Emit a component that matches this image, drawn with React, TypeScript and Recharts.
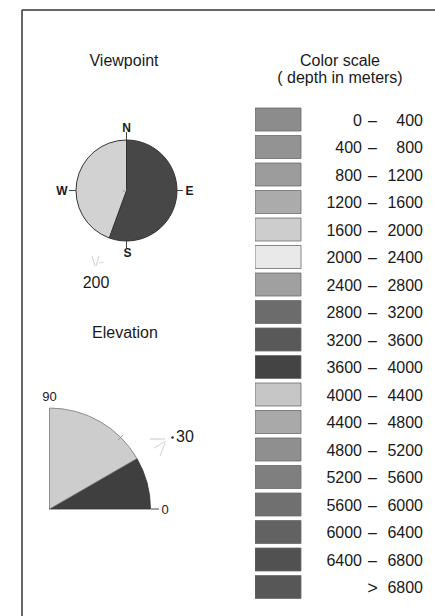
import React from 'react';
import { PieChart, Pie, Cell, BarChart, Bar, XAxis, YAxis } from 'recharts';

// Viewpoint azimuth: dark sector from N clockwise to the viewpoint bearing (200°)
const VIEW_AZIMUTH = [
  { part: 'toward', value: 200 },
  { part: 'away', value: 160 },
];
const VIEW_LABEL = '200';

// Elevation: dark sector from 0° up to 30°
const ELEVATION = [
  { part: 'below', value: 30 },
  { part: 'above', value: 60 },
];
const ELEVATION_LABEL = '30';

const DEPTH_RANGES = [
  '0 – 400',
  '400 – 800',
  '800 – 1200',
  '1200 – 1600',
  '1600 – 2000',
  '2000 – 2400',
  '2400 – 2800',
  '2800 – 3200',
  '3200 – 3600',
  '3600 – 4000',
  '4000 – 4400',
  '4400 – 4800',
  '4800 – 5200',
  '5200 – 5600',
  '5600 – 6000',
  '6000 – 6400',
  '6400 – 6800',
  '> 6800',
];
const DEPTH_SWATCH = [1, 1, 1, 1, 1, 1, 1, 1, 1, 1, 1, 1, 1, 1, 1, 1, 1, 1];

const DEPTH_COLORS = [
  '#8c8c8c', '#939393', '#9c9c9c', '#ababab', '#cdcdcd', '#e9e9e9',
  '#a0a0a0', '#6c6c6c', '#595959', '#444444', '#c6c6c6', '#a9a9a9',
  '#8f8f8f', '#7f7f7f', '#707070', '#626262', '#515151', '#575757',
];

const scaleRows = DEPTH_RANGES.map((range, i) => ({ range, swatch: DEPTH_SWATCH[i] }));

const FONT = '"Liberation Sans", Arial, Helvetica, sans-serif';
const INK = '#1a1a1a';

const RangeTick = (props: any) => {
  const { y, payload } = props;
  const label: string = payload.value;
  const common = { fontFamily: FONT, fontSize: 16, fill: INK, dy: '0.36em' };
  if (label.includes('–')) {
    const [lo, hi] = label.split(' – ');
    return (
      <g>
        <text x={107} y={y} textAnchor="end" {...common}>{lo}</text>
        <text x={117.5} y={y} textAnchor="middle" {...common}>–</text>
        <text x={168} y={y} textAnchor="end" {...common}>{hi}</text>
      </g>
    );
  }
  const num = label.replace('>', '').trim();
  return (
    <g>
      <text x={117.5} y={y} textAnchor="middle" {...common} fontSize={18}>&gt;</text>
      <text x={168} y={y} textAnchor="end" {...common}>{num}</text>
    </g>
  );
};

export default function App() {
  return (
    <div
      style={{
        position: 'absolute',
        left: 0,
        top: 0,
        width: 435,
        height: 616,
        background: '#fff',
        overflow: 'hidden',
        fontFamily: FONT,
      }}
    >
      {/* Compass (viewpoint) */}
      <div style={{ position: 'absolute', left: 26, top: 90 }}>
        <PieChart width={200} height={200} margin={{ top: 0, right: 0, bottom: 0, left: 0 }}>
          <Pie
            data={VIEW_AZIMUTH}
            dataKey="value"
            nameKey="part"
            cx={100.5}
            cy={100.5}
            outerRadius={50.5}
            startAngle={90}
            endAngle={-270}
            isAnimationActive={false}
            stroke="#333"
            strokeWidth={1}
          >
            <Cell fill="#474747" />
            <Cell fill="#d2d2d2" />
          </Pie>
        </PieChart>
      </div>

      {/* Elevation quarter */}
      <div style={{ position: 'absolute', left: 0, top: 400 }}>
        <PieChart width={200} height={150} margin={{ top: 0, right: 0, bottom: 0, left: 0 }}>
          <Pie
            data={ELEVATION}
            dataKey="value"
            nameKey="part"
            cx={49.5}
            cy={109}
            outerRadius={101}
            startAngle={0}
            endAngle={90}
            isAnimationActive={false}
            strokeWidth={0.8}
          >
            <Cell fill="#3f3f3f" stroke="#333" />
            <Cell fill="#cdcdcd" stroke="#777" />
          </Pie>
        </PieChart>
      </div>

      {/* Color scale */}
      <div style={{ position: 'absolute', left: 255, top: 105.75 }}>
        <BarChart
          width={180}
          height={495}
          layout="vertical"
          data={scaleRows}
          margin={{ top: 0, right: 0, bottom: 0, left: 0 }}
        >
          <XAxis type="number" domain={[0, 1]} hide />
          <YAxis
            type="category"
            dataKey="range"
            orientation="right"
            width={134}
            axisLine={false}
            tickLine={false}
            interval={0}
            tick={<RangeTick />}
          />
          <Bar dataKey="swatch" barSize={23} isAnimationActive={false}>
            {scaleRows.map((r, i) => (
              <Cell key={r.range} fill={DEPTH_COLORS[i]} stroke="#6a6a6a" strokeWidth={0.8} />
            ))}
          </Bar>
        </BarChart>
      </div>

      {/* Annotations */}
      <svg
        width={435}
        height={616}
        style={{ position: 'absolute', left: 0, top: 0, pointerEvents: 'none' }}
      >
        {/* frame */}
        <line x1={22} y1={10} x2={435} y2={10} stroke="#333" strokeWidth={1.5} />
        <line x1={22} y1={10} x2={22} y2={616} stroke="#333" strokeWidth={1.5} />

        {/* titles */}
        <text x={124} y={66} textAnchor="middle" fontFamily={FONT} fontSize={16} fill={INK}>Viewpoint</text>
        <text x={340} y={66} textAnchor="middle" fontFamily={FONT} fontSize={16} fill={INK}>Color scale</text>
        <text x={340} y={83} textAnchor="middle" fontFamily={FONT} fontSize={16} fill={INK} xmlSpace="preserve">( depth in meters)</text>
        <text x={125} y={338} textAnchor="middle" fontFamily={FONT} fontSize={16} fill={INK}>Elevation</text>

        {/* compass ticks & letters */}
        <line x1={126.5} y1={132} x2={126.5} y2={140} stroke="#444" strokeWidth={1} />
        <line x1={126.5} y1={241} x2={126.5} y2={248} stroke="#444" strokeWidth={1} />
        <line x1={69} y1={190.5} x2={76} y2={190.5} stroke="#444" strokeWidth={1} />
        <line x1={177} y1={190.5} x2={183} y2={190.5} stroke="#444" strokeWidth={1} />
        <text x={126.5} y={132} textAnchor="middle" fontFamily={FONT} fontSize={12} fontWeight="bold" fill={INK}>N</text>
        <text x={127.5} y={257} textAnchor="middle" fontFamily={FONT} fontSize={12} fontWeight="bold" fill={INK}>S</text>
        <text x={62} y={195} textAnchor="middle" fontFamily={FONT} fontSize={12} fontWeight="bold" fill={INK}>W</text>
        <text x={189.5} y={195} textAnchor="middle" fontFamily={FONT} fontSize={12} fontWeight="bold" fill={INK}>E</text>
        <circle cx={124} cy={191} r={0.8} fill="#888" />

        {/* viewpoint value with faint rays */}
        <line x1={92} y1={256} x2={95} y2={266} stroke="#c4c4c4" strokeWidth={0.8} />
        <line x1={99} y1={256} x2={96} y2={266} stroke="#c4c4c4" strokeWidth={0.8} />
        <line x1={99} y1={263} x2={104} y2={262} stroke="#d0d0d0" strokeWidth={0.8} />
        <text x={96} y={288} textAnchor="middle" fontFamily={FONT} fontSize={16} fill={INK}>{VIEW_LABEL}</text>

        {/* elevation labels */}
        <text x={49.5} y={401} textAnchor="middle" fontFamily={FONT} fontSize={13} fill={INK}>90</text>
        <line x1={151} y1={509} x2={159} y2={509} stroke="#444" strokeWidth={1} />
        <text x={165} y={514} textAnchor="middle" fontFamily={FONT} fontSize={13} fill={INK}>0</text>
        <line x1={118} y1={440} x2={123} y2={435} stroke="#888" strokeWidth={0.8} />
        <line x1={150} y1={439} x2={165} y2={439} stroke="#bbb" strokeWidth={0.8} />
        <line x1={154} y1={448} x2={166} y2={441} stroke="#c4c4c4" strokeWidth={0.8} />
        <line x1={160} y1={456} x2={165} y2={443} stroke="#c4c4c4" strokeWidth={0.8} />
        <circle cx={172.5} cy={437.5} r={1.3} fill="#333" />
        <text x={176} y={442} fontFamily={FONT} fontSize={16} fill={INK}>{ELEVATION_LABEL}</text>
      </svg>
    </div>
  );
}
